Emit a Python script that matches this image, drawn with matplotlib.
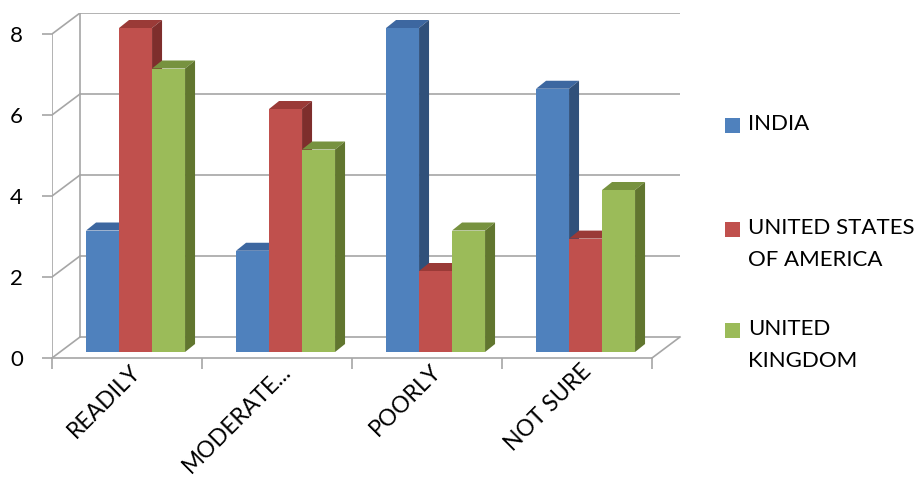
import matplotlib.pyplot as plt
from matplotlib.patches import Polygon, Rectangle

categories = ['READILY', 'MODERATE...', 'POORLY', 'NOT SURE']
series = ['INDIA', 'UNITED STATES\nOF AMERICA', 'UNITED\nKINGDOM']
india = [3, 2.5, 8, 6.5]
usa = [8, 6, 2, 2.8]
uk = [7, 5, 3, 4]
values = [india, usa, uk]
y_ticks = [0, 2, 4, 6, 8]

front = ['#4F81BD', '#C0504D', '#9BBB59']
side = ['#30507A', '#7E2E2C', '#61762F']
top = ['#3D67A0', '#9A3A37', '#77923F']
grid_col = '#a6a6a6'

plt.rcParams['font.family'] = ['Lato', 'DejaVu Sans']

fig = plt.figure(figsize=(9.24, 4.82), dpi=100)
ax = fig.add_axes([52 / 924, 124 / 482, 628 / 924, 345 / 482])

# depth of the back wall and of each bar, in data units
dx, dy = 28 / 150, 21 / 40.5
bdx, bdy = 10 / 150, 8 / 40.5
z0 = 6 / 40.5
shift = 0.057
w = 0.22

ax.set_xlim(-0.5, 3.5 + dx)
ax.set_ylim(0, 8 + dy)
for s in ax.spines.values():
    s.set_visible(False)

# back wall, floor and gridlines
for k in y_ticks:
    ax.plot([-0.5 + dx, 3.5 + dx], [k + dy, k + dy], color=grid_col, lw=1.2, zorder=1)
    ax.plot([-0.5, -0.5 + dx], [k, k + dy], color=grid_col, lw=1.2, zorder=1)
ax.plot([-0.5 + dx, -0.5 + dx], [dy, 8 + dy], color=grid_col, lw=1.2, zorder=1)
ax.plot([-0.5, -0.5], [0, 8], color=grid_col, lw=1.2, zorder=1)
ax.plot([-0.5, 3.5], [0, 0], color=grid_col, lw=1.2, zorder=1, clip_on=False)
ax.plot([3.5, 3.5 + dx], [0, dy], color=grid_col, lw=1.2, zorder=1, clip_on=False)

for i, vals in enumerate(values):
    xs = [c + shift + (i - 1) * w for c in range(len(categories))]
    ax.bar(xs, vals, width=w, bottom=z0, color=front[i], zorder=3 + i)
    for x, v in zip(xs, vals):
        l, r = x - w / 2, x + w / 2
        t = z0 + v
        ax.add_patch(Polygon([(l, t), (r, t), (r + bdx, t + bdy), (l + bdx, t + bdy)],
                             closed=True, facecolor=top[i], edgecolor='none', zorder=3 + i))
        ax.add_patch(Polygon([(r, z0), (r + bdx, z0 + bdy), (r + bdx, t + bdy), (r, t)],
                             closed=True, facecolor=side[i], edgecolor='none', zorder=3 + i))

ax.set_yticks(y_ticks)
ax.set_yticklabels([str(k) for k in y_ticks], fontsize=16)
ax.tick_params(axis='y', length=7, color=grid_col, width=1.2, pad=14)

ax.set_xticks([c + 0.02 for c in range(len(categories))])
ax.set_xticklabels(categories, rotation=45, ha='right', rotation_mode='anchor', fontsize=16.5)
ax.tick_params(axis='x', length=0, pad=2)
ax.set_xticks([c - 0.5 for c in range(len(categories) + 1)], minor=True)
ax.tick_params(axis='x', which='minor', length=8, color=grid_col, width=1.2)

# legend, one entry per series, square next to the first text line
legend_y = [126, 230, 331]
for i, name in enumerate(series):
    yc = 1 - legend_y[i] / 482
    fig.patches.append(Rectangle((725 / 924, yc - 7 / 482), 15 / 924, 15 / 482,
                                 transform=fig.transFigure, facecolor=front[i],
                                 edgecolor='none'))
    fig.text(748 / 924, yc + 12 / 482, name, fontsize=16, va='top', ha='left',
             linespacing=1.75)

fig.savefig('out.png', dpi=100)
